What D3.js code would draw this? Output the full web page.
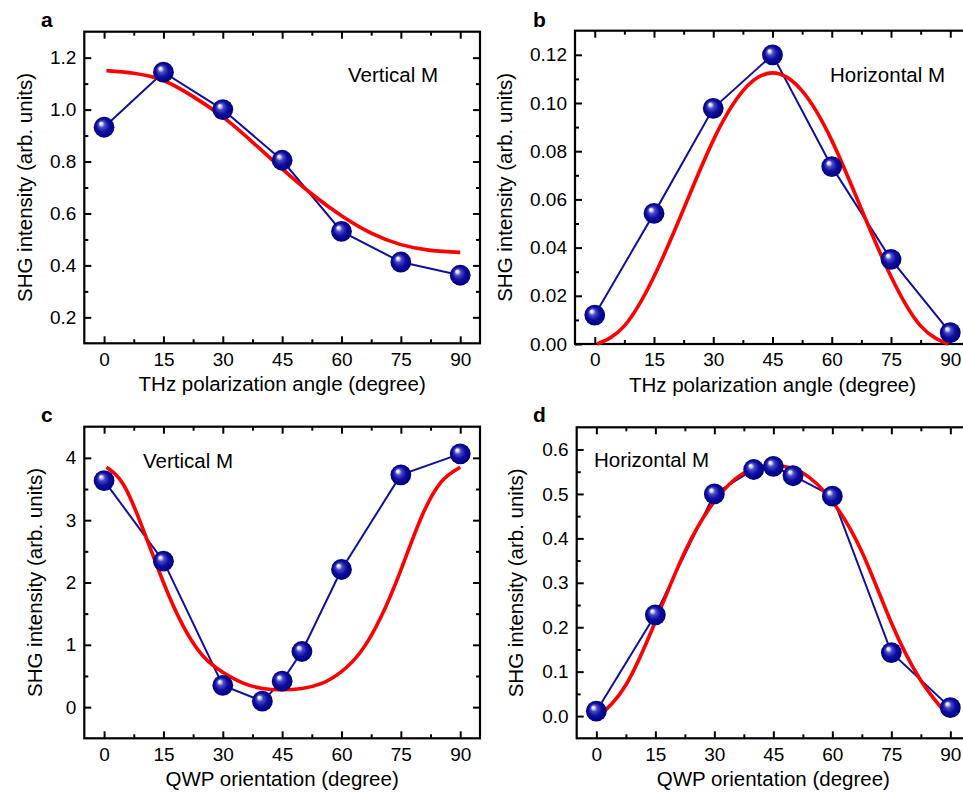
<!DOCTYPE html>
<html><head><meta charset="utf-8">
<script src="https://cdn.jsdelivr.net/npm/d3@7"></script>
<style>
body{margin:0;background:#fff;}
svg{display:block;font-family:"Liberation Sans",Arial,sans-serif;}
</style></head>
<body><svg id="c" width="963" height="792"></svg>
<script>
// ---- data ----
const angAB = [0, 15, 30, 45, 60, 75, 90];
const valA = [0.932, 1.144, 1.0, 0.805, 0.531, 0.413, 0.362];
const fitAngA = [0.6, 7.5, 15, 22.5, 30, 37.5, 45, 52.5, 60, 67.5, 75, 82.5, 90];
const fitA = [1.15, 1.14, 1.112, 1.05, 0.972, 0.875, 0.772, 0.675, 0.591, 0.524, 0.48, 0.458, 0.45];

const valB = [0.012, 0.0542, 0.0978, 0.12, 0.0736, 0.0351, 0.0047];
const fitAngB = [0.6, 7.5, 15, 22.5, 30, 37.5, 45, 52.5, 60, 67.5, 75, 82.5, 89.5];
const fitB = [0, 0.0075, 0.028, 0.056, 0.0845, 0.105, 0.1125, 0.105, 0.0845, 0.056, 0.028, 0.0075, 0];

const angCD = [0, 15, 30, 40, 45, 50, 60, 75, 90];
const valC = [3.636, 2.342, 0.348, 0.096, 0.417, 0.893, 2.209, 3.727, 4.064];
const fitAngC = [0.6, 5, 10, 15, 20, 25, 30, 35, 40, 45, 50, 55, 60, 65, 70, 75, 80, 85, 90];
const fitC = [3.85, 3.56, 2.83, 2.0, 1.3, 0.82, 0.56, 0.39, 0.30, 0.28, 0.30, 0.38, 0.57, 0.9, 1.45, 2.2, 3.02, 3.6, 3.85];

const valD = [0.011, 0.228, 0.5, 0.555, 0.562, 0.541, 0.495, 0.143, 0.019];
const fitAngD = [0.6, 7.5, 15, 22.5, 30, 37.5, 45, 52.5, 60, 67.5, 75, 82.5, 89.5];
const fitD = [0, 0.07, 0.213, 0.37, 0.483, 0.547, 0.564, 0.547, 0.483, 0.37, 0.21, 0.08, 0];

const xTicks = [0, 15, 30, 45, 60, 75, 90];
const xMinor = [7.5, 22.5, 37.5, 52.5, 67.5, 82.5];
const yTicksA = [0.2, 0.4, 0.6, 0.8, 1.0, 1.2], yMinorA = [0.3, 0.5, 0.7, 0.9, 1.1];
const yTicksB = [0, 0.02, 0.04, 0.06, 0.08, 0.10, 0.12], yMinorB = [0.01, 0.03, 0.05, 0.07, 0.09, 0.11];
const yTicksC = [0, 1, 2, 3, 4], yMinorC = [0.5, 1.5, 2.5, 3.5];
const yTicksD = [0, 0.1, 0.2, 0.3, 0.4, 0.5, 0.6], yMinorD = [0.05, 0.15, 0.25, 0.35, 0.45, 0.55];

const xTitleTop = "THz polarization angle (degree)";
const xTitleBottom = "QWP orientation (degree)";
const yTitle = "SHG intensity (arb. units)";

const svg = d3.select("#c");
const defs = svg.append("defs");
const grad = defs.append("radialGradient").attr("id", "ball")
  .attr("cx", "50%").attr("cy", "50%").attr("r", "50%").attr("fx", "33%").attr("fy", "30%");
[["0%", "#ffffff"], ["12%", "#e4e4ff"], ["32%", "#4a4ac4"], ["62%", "#0d0da2"], ["100%", "#00007c"]]
  .forEach(s => grad.append("stop").attr("offset", s[0]).attr("stop-color", s[1]));

function panel(o) {
  const x = d3.scaleLinear().domain([-5, 95]).range([o.x0, o.x1]);
  const y = d3.scaleLinear().domain(o.yDom).range([o.y1, o.y0]);
  const g = svg.append("g");
  const fs = 19;
  const style = a => { a.select(".domain").remove(); a.selectAll("line").attr("stroke-width", 2);
    a.selectAll("text").attr("font-size", fs).attr("fill", "#000").attr("font-family", "Liberation Sans, Arial"); };
  g.append("g").attr("transform", `translate(0,${o.y1})`)
    .call(d3.axisBottom(x).tickValues(xTicks).tickSizeInner(-7).tickSizeOuter(0).tickPadding(9).tickFormat(d3.format("d"))).call(style);
  g.append("g").attr("transform", `translate(0,${o.y1})`)
    .call(d3.axisBottom(x).tickValues(xMinor).tickSizeInner(-4).tickSizeOuter(0).tickFormat("")).call(style);
  g.append("g").attr("transform", `translate(0,${o.y0})`)
    .call(d3.axisTop(x).tickValues(xTicks).tickSizeInner(-7).tickSizeOuter(0).tickFormat("")).call(style);
  g.append("g").attr("transform", `translate(0,${o.y0})`)
    .call(d3.axisTop(x).tickValues(xMinor).tickSizeInner(-4).tickSizeOuter(0).tickFormat("")).call(style);
  g.append("g").attr("transform", `translate(${o.x0},0)`)
    .call(d3.axisLeft(y).tickValues(o.yTicks).tickSizeInner(-7).tickSizeOuter(0).tickPadding(8).tickFormat(d3.format(o.fmt))).call(style);
  g.append("g").attr("transform", `translate(${o.x0},0)`)
    .call(d3.axisLeft(y).tickValues(o.yMinor).tickSizeInner(-4).tickSizeOuter(0).tickFormat("")).call(style);
  g.append("g").attr("transform", `translate(${o.x1},0)`)
    .call(d3.axisRight(y).tickValues(o.yTicks).tickSizeInner(-7).tickSizeOuter(0).tickFormat("")).call(style);
  g.append("g").attr("transform", `translate(${o.x1},0)`)
    .call(d3.axisRight(y).tickValues(o.yMinor).tickSizeInner(-4).tickSizeOuter(0).tickFormat("")).call(style);
  g.append("rect").attr("x", o.x0).attr("y", o.y0).attr("width", o.x1 - o.x0).attr("height", o.y1 - o.y0)
    .attr("fill", "none").attr("stroke", "#000").attr("stroke-width", 2.2);

  const pts = o.ang.map((a, i) => [a, o.val[i]]);
  g.append("path").datum(pts)
    .attr("d", d3.line().x(d => x(d[0])).y(d => y(d[1])))
    .attr("fill", "none").attr("stroke", "#1010a0").attr("stroke-width", 2);
  const fpts = o.fitAng.map((a, i) => [a, o.fit[i]]);
  g.append("path").datum(fpts)
    .attr("d", d3.line().curve(d3.curveNatural).x(d => x(d[0])).y(d => y(d[1])))
    .attr("fill", "none").attr("stroke", "#ff0000").attr("stroke-width", 3.6);
  g.selectAll("circle.b").data(pts).enter().append("circle")
    .attr("cx", d => x(d[0])).attr("cy", d => y(d[1])).attr("r", 10.4)
    .attr("fill", "url(#ball)");

  g.append("text").attr("x", (o.x0 + o.x1) / 2).attr("y", o.y1 + 48).attr("text-anchor", "middle")
    .attr("font-size", 20.5).text(o.xTitle);
  g.append("text").attr("transform", `translate(${o.yLabX},${(o.y0 + o.y1) / 2}) rotate(-90)`)
    .attr("text-anchor", "middle").attr("font-size", 20.5).text(yTitle);
  g.append("text").attr("x", o.annX).attr("y", o.annY).attr("font-size", 20.5).text(o.ann);
  g.append("text").attr("x", o.letX).attr("y", o.letY).attr("font-size", 21).attr("font-weight", "bold").text(o.letter);
}

panel({x0: 84.3, x1: 480, y0: 31.7, y1: 343.3, yDom: [0.1, 1.3], yTicks: yTicksA, yMinor: yMinorA, fmt: ".1f",
  ang: angAB, val: valA, fitAng: fitAngA, fit: fitA, xTitle: xTitleTop, yLabX: 31.5,
  ann: "Vertical M", annX: 348, annY: 81.7, letter: "a", letX: 41, letY: 26.5});
panel({x0: 575, x1: 970, y0: 30.7, y1: 344, yDom: [0, 0.13], yTicks: yTicksB, yMinor: yMinorB, fmt: ".2f",
  ang: angAB, val: valB, fitAng: fitAngB, fit: fitB, xTitle: xTitleTop, yLabX: 512,
  ann: "Horizontal M", annX: 830, annY: 81.7, letter: "b", letX: 533, letY: 26.5});
panel({x0: 84.3, x1: 480, y0: 426.7, y1: 738.3, yDom: [-0.5, 4.5], yTicks: yTicksC, yMinor: yMinorC, fmt: "d",
  ang: angCD, val: valC, fitAng: fitAngC, fit: fitC, xTitle: xTitleBottom, yLabX: 41.5,
  ann: "Vertical M", annX: 143, annY: 467.5, letter: "c", letX: 41, letY: 421.5});
panel({x0: 576.7, x1: 970, y0: 427.3, y1: 738.3, yDom: [-0.05, 0.65], yTicks: yTicksD, yMinor: yMinorD, fmt: ".1f",
  ang: angCD, val: valD, fitAng: fitAngD, fit: fitD, xTitle: xTitleBottom, yLabX: 523,
  ann: "Horizontal M", annX: 594, annY: 466.5, letter: "d", letX: 533, letY: 421.5});
</script></body></html>
